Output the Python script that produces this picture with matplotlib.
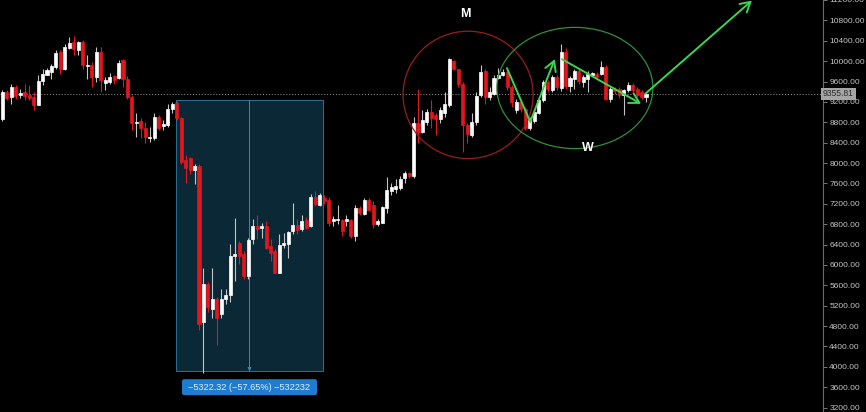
import numpy as np
import matplotlib
matplotlib.use('Agg')
import matplotlib.pyplot as plt
from matplotlib.patches import Rectangle, Ellipse, FancyBboxPatch

# ------------------ Data (daily candles) ------------------
opens = [8868, 9395, 9297, 9492, 9331, 9395, 9343, 9297, 9147, 9604,
         9733, 9785, 9883, 10176, 9850, 10254, 10371, 10228, 10384, 9902,
         9916, 9688, 10176, 9577, 9590, 9702, 9668, 10014, 9655, 9298,
         8777, 8823, 8693, 8484, 8484, 8907, 8726, 8745, 9058, 9187,
         8874, 8062, 8096, 7867, 7932, 4874, 5629, 5136, 5331, 5038,
         5331, 5415, 6176, 6435, 6209, 5786, 6501, 6761, 6716, 6761,
         6371, 6273, 5850, 6390, 6404, 6664, 6781, 6697, 6872, 6761,
         7327, 7184, 7314, 7282, 6864, 6872, 6872, 6859, 6872, 6566,
         7118, 7001, 7282, 7184, 6806, 6826, 7118, 7458, 7497, 7508,
         7704, 7801, 7737, 8777, 8615, 8810, 9005, 8940, 8862, 8972,
         9136, 9994, 9838, 9557, 8745, 8550, 8810, 9331, 9799, 9297,
         9362, 9668, 9721, 9785, 9492, 9038, 9200, 9069, 8679, 8823,
         8985, 9233, 9590, 9428, 9688, 9473, 10189, 9512, 9655, 9799,
         9590, 9655, 9733, 9756, 9752, 9883, 9265, 9459, 9459, 9331,
         9428, 9538, 9459, 9395, 9297]

closes = [9395, 9278, 9492, 9317, 9381, 9317, 9278, 9147, 9604, 9752,
          9818, 9902, 10162, 9850, 10273, 10351, 10240, 10371, 9916, 9928,
          9688, 10189, 9629, 9623, 9688, 9623, 9967, 9655, 9298, 8777,
          8810, 8679, 8517, 8517, 8907, 8679, 8757, 9058, 9167, 8874,
          8029, 7899, 7867, 7932, 4843, 5629, 5167, 5331, 4959, 5331,
          5415, 6176, 6209, 6176, 5786, 6488, 6761, 6697, 6761, 6337,
          6240, 5850, 6390, 6435, 6650, 6781, 6677, 6859, 6728, 7327,
          7196, 7366, 7249, 6826, 6903, 6903, 6664, 6892, 6566, 7107,
          7020, 7282, 7087, 6794, 6859, 7138, 7477, 7522, 7555, 7692,
          7801, 7737, 8777, 8615, 8843, 9005, 8888, 8862, 9038, 9167,
          10045, 9838, 9557, 8745, 8562, 8810, 9317, 9785, 9297, 9395,
          9668, 9733, 9785, 9492, 9200, 9200, 9063, 8679, 8862, 9005,
          9233, 9590, 9460, 9688, 9492, 10176, 9512, 9659, 9799, 9604,
          9688, 9752, 9766, 9697, 9883, 9265, 9459, 9415, 9331, 9428,
          9538, 9428, 9331, 9297, 9355.81]

highs = [9434, 9434, 9551, 9532, 9459, 9551, 9532, 9395, 9721, 9850,
         9864, 9947, 10209, 10209, 10338, 10468, 10488, 10404, 10410, 10117,
         9980, 10273, 10273, 9688, 9766, 9727, 10020, 10039, 9707, 9337,
         8972, 8888, 8810, 8712, 8972, 8946, 8843, 9167, 9200, 9220,
         8907, 8166, 8127, 7971, 7971, 5947, 5655, 5947, 5362, 5526,
         5526, 6404, 6923, 6468, 6273, 6533, 6892, 6989, 6826, 6859,
         6501, 6306, 6599, 6630, 6664, 7216, 6892, 6976, 6937, 7385,
         7458, 7411, 7366, 7327, 6956, 7184, 6892, 6989, 6898, 7184,
         7151, 7314, 7314, 7249, 6892, 7151, 7717, 7606, 7692, 7737,
         7834, 7821, 8907, 9454, 9038, 9069, 9233, 8972, 9102, 9395,
         10059, 10013, 9850, 9590, 8777, 8972, 9395, 9928, 9850, 9493,
         9721, 9864, 9850, 9850, 9526, 9265, 9239, 9102, 8907, 9063,
         9278, 9629, 9629, 9727, 9727, 10338, 10254, 9707, 9850, 9844,
         9721, 9805, 9785, 9785, 9994, 9916, 9493, 9493, 9493, 9459,
         9590, 9571, 9493, 9434, 9376]

lows = [8829, 9239, 9161, 9258, 9278, 9239, 9239, 9044, 9136, 9526,
        9721, 9655, 9850, 9752, 9818, 10234, 10111, 10111, 9850, 9655,
        9493, 9590, 9395, 9428, 9551, 9551, 9649, 9493, 9259, 8654,
        8517, 8484, 8386, 8420, 8453, 8654, 8648, 8712, 8972, 8849,
        7990, 7606, 7776, 7581, 4712, 3870, 5069, 4959, 4420, 4959,
        5233, 5265, 5688, 6014, 5721, 5721, 6404, 6501, 6533, 6306,
        6078, 5844, 5844, 6337, 6143, 6599, 6599, 6664, 6703, 6742,
        7151, 7151, 7190, 6761, 6761, 6794, 6566, 6761, 6533, 6468,
        6989, 6989, 7054, 6728, 6761, 6820, 7020, 7380, 7411, 7477,
        7606, 7704, 7704, 8386, 8582, 8745, 8679, 8550, 8777, 8907,
        9102, 9818, 9493, 8224, 8386, 8517, 8745, 9297, 9167, 9233,
        9331, 9655, 9707, 9428, 9102, 8972, 9005, 8648, 8648, 8790,
        8966, 9200, 9395, 9395, 9428, 9409, 9459, 9395, 9459, 9551,
        9493, 9395, 9707, 9649, 9727, 9239, 9200, 9356, 9278, 8946,
        9395, 9395, 9297, 9258, 9200]

last_price = 9355.81
price_ticks = list(range(3200, 11201, 400))

# measure tool (date/price range)
measure_bars = [38.9, 71.7]
measure_prices = [9232.0, 3909.68]
measure_text = "\u22125322.32 (\u221257.65%) \u2212532232"

# hand drawn pattern marks (bar index, price)
m_circle = (104.2, 9337, 29.1, 2500)
w_circle = (128.1, 9473, 34.9, 2380)
w_path = [(112.9, 9863), (118.1, 8810), (123.6, 10039)]
w_down = [(125.2, 10039), (142.9, 9161)]
w_up = [(143.8, 9356), (167.7, 11190)]

UP = '#ffffff'
DOWN = '#e3161d'
UP_WICK = '#c4c4c4'
BG = '#000000'

# ------------------ Figure ------------------
fig = plt.figure(figsize=(8.66, 4.12), dpi=100)
fig.patch.set_facecolor(BG)
ax = fig.add_axes([0, 0, 823 / 866, 1])
ax.set_facecolor(BG)

o = np.array(opens, dtype=float)
c = np.array(closes, dtype=float)
h = np.array(highs, dtype=float)
l = np.array(lows, dtype=float)
idx = np.arange(len(c))
up = c >= o

# measure box behind the candles
x0, x1 = measure_bars
ax.add_patch(Rectangle((x0, measure_prices[1]), x1 - x0,
                       measure_prices[0] - measure_prices[1],
                       facecolor='#0a2836', edgecolor='#2f6f93', lw=0.7, zorder=1))
xm = (x0 + x1) / 2
ax.annotate('', xy=(xm, measure_prices[1]), xytext=(xm, measure_prices[0]),
            arrowprops=dict(arrowstyle='-|>', color='#3f86b5', lw=0.7,
                            mutation_scale=5, shrinkA=0, shrinkB=0), zorder=1.5)

# wicks
ax.vlines(idx[up], l[up], h[up], color=UP_WICK, lw=0.8, zorder=2)
ax.vlines(idx[~up], l[~up], h[~up], color=DOWN, lw=0.8, zorder=2)

# bodies
body_lo = np.minimum(o, c)
body_h = np.abs(c - o)
ax.bar(idx[up], body_h[up], bottom=body_lo[up], width=0.68,
       color=UP, edgecolor=UP, lw=0.5, zorder=3)
ax.bar(idx[~up], body_h[~up], bottom=body_lo[~up], width=0.68,
       color=DOWN, edgecolor=DOWN, lw=0.5, zorder=3)

# last price line
ax.axhline(last_price, color='#9a9a9a', lw=0.7, ls=(0, (1, 2)), zorder=1)

# measure label
lbl_y0, lbl_y1 = 3444, 3756
lbl_x0, lbl_x1 = 40.2, 70.4
ax.add_patch(FancyBboxPatch((lbl_x0, lbl_y0), lbl_x1 - lbl_x0, lbl_y1 - lbl_y0,
                            boxstyle='round,pad=0,rounding_size=0.5',
                            mutation_aspect=87, facecolor='#1f7dd1',
                            edgecolor='none', zorder=4))
ax.text((lbl_x0 + lbl_x1) / 2, (lbl_y0 + lbl_y1) / 2, measure_text,
        color='#dcecff', fontsize=6.6, family='Liberation Sans',
        ha='center', va='center', zorder=5)

# M / W pattern drawings
ax.add_patch(Ellipse(m_circle[:2], m_circle[2], m_circle[3], fill=False,
                     edgecolor='#9b1c1c', lw=0.9, zorder=4))
ax.add_patch(Ellipse(w_circle[:2], w_circle[2], w_circle[3], angle=0, fill=False,
                     edgecolor='#2f8f3a', lw=0.9, zorder=4))

green = '#3ad64e'
ax.plot([p[0] for p in w_path[:2]], [p[1] for p in w_path[:2]],
        color=green, lw=1.4, zorder=6, solid_capstyle='round')
for a, b in [(w_path[1], w_path[2]), tuple(w_down), tuple(w_up)]:
    ax.annotate('', xy=b, xytext=a,
                arrowprops=dict(arrowstyle='->,head_length=0.7,head_width=0.4',
                                color=green, lw=1.4, shrinkA=0, shrinkB=0,
                                mutation_scale=10),
                zorder=6, annotation_clip=False)

ax.text(103.5, 10917, 'M', color='white', fontsize=9, fontweight='bold',
        family='Liberation Sans', ha='center', va='center', zorder=6)
ax.text(131.0, 8302, 'W', color='white', fontsize=9, fontweight='bold',
        family='Liberation Sans', ha='center', va='center', zorder=6)

# ------------------ Axes style ------------------
ax.set_xlim(-0.515, 183.6)
ax.set_ylim(3112, 11151.2)
ax.set_xticks([])
ax.yaxis.tick_right()
ax.set_yticks(price_ticks)
ax.set_yticklabels([f'{v:.2f}' for v in price_ticks], family='Liberation Sans')
ax.tick_params(axis='y', direction='out', length=3, width=0.7, color='#777777',
               labelcolor='#c4c4c4', labelsize=6.0, pad=1.5)
for side in ['top', 'left', 'bottom']:
    ax.spines[side].set_visible(False)
ax.spines['right'].set_color('#6a6a6a')
ax.spines['right'].set_linewidth(0.8)

# current price tag on the axis
ax.text(1.0, last_price, f'{last_price:.2f}', transform=ax.get_yaxis_transform(),
        ha='left', va='center', fontsize=6.2, family='Liberation Sans',
        color='#2b2b2b', zorder=10, clip_on=False,
        bbox=dict(boxstyle='square,pad=0.2', fc='#a6a6a6', ec='none'))

fig.savefig('out.png', dpi=100, facecolor=BG)
